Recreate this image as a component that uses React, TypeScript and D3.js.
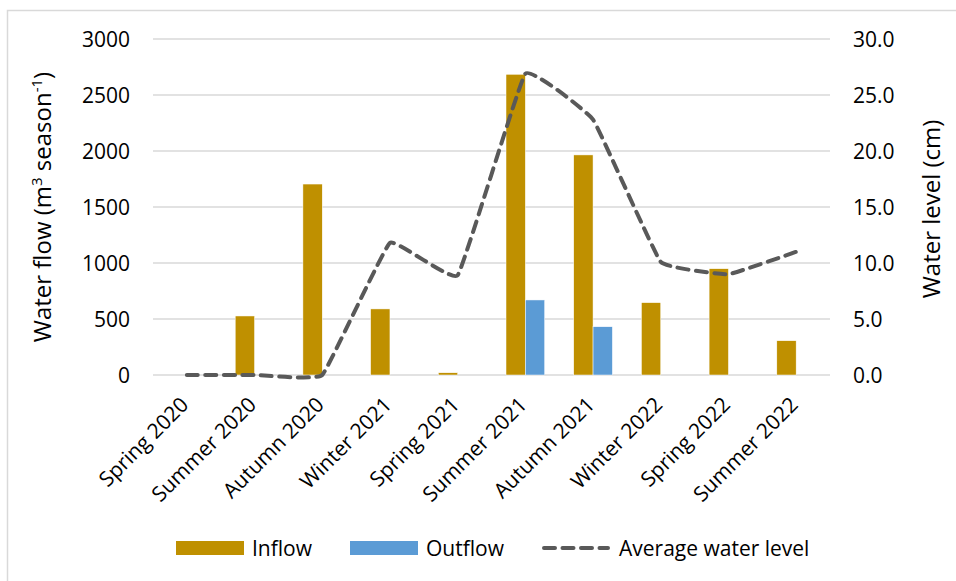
import React from "react";
import * as d3 from "d3";

const categories = [
  "Spring 2020", "Summer 2020", "Autumn 2020", "Winter 2021", "Spring 2021",
  "Summer 2021", "Autumn 2021", "Winter 2022", "Spring 2022", "Summer 2022",
];
const inflow = [0, 527, 1705, 590, 20, 2685, 1965, 646, 949, 306];
const outflow = [0, 0, 0, 0, 0, 670, 431, 0, 0, 0];
const waterLevel = [0, 0, 0, 11.8, 8.9, 26.9, 22.8, 10.1, 9.0, 11.0];
const leftTicks = [0, 500, 1000, 1500, 2000, 2500, 3000];
const rightTicks = [0, 5, 10, 15, 20, 25, 30];
const seriesNames = ["Inflow", "Outflow"];

const W = 956;
const H = 581;
const FONT = "'Open Sans', sans-serif";
const colors = { Inflow: "#BF9000", Outflow: "#5B9BD5", line: "#595959" };

export default function App() {
  const plot = { left: 153, right: 830, top: 39, bottom: 375 };
  const x = d3.scaleBand<string>().domain(categories).range([plot.left, plot.right]).padding(0);
  const groupW = (x.bandwidth() * 2) / 3.5;
  const xs = d3.scaleBand<string>().domain(seriesNames).range([-groupW / 2, groupW / 2]).padding(0);
  const yL = d3.scaleLinear().domain([0, 3000]).range([plot.bottom, plot.top]);
  const yR = d3.scaleLinear().domain([0, 30]).range([plot.bottom, plot.top]);
  const cx = (c: string) => (x(c) as number) + x.bandwidth() / 2;

  const line = d3
    .line<number>()
    .x((_, i) => cx(categories[i]))
    .y((d) => yR(d))
    .curve(d3.curveCardinal.tension(0.75));
  const linePath = line(waterLevel) || "";

  const series = [
    { name: "Inflow", values: inflow },
    { name: "Outflow", values: outflow },
  ];

  const textColor = "#000";
  const fs = 21;

  return (
    <svg
      width={W}
      height={H}
      style={{ position: "absolute", left: 0, top: 0, background: "#fff" }}
      fontFamily={FONT}
    >
      <rect x={0} y={0} width={W} height={H} fill="#fff" />
      <rect x={7.5} y={10.5} width={W + 20} height={H + 20} fill="none" stroke="#d9d9d9" strokeWidth={1.5} />
      {leftTicks.map((t) => (
        <line key={"g" + t} x1={plot.left} x2={plot.right} y1={yL(t)} y2={yL(t)} stroke="#d9d9d9" strokeWidth={1.5} />
      ))}
      {series.map((s) =>
        s.values.map((v, i) =>
          v > 0 ? (
            <rect
              key={s.name + i}
              x={cx(categories[i]) + (xs(s.name) as number)}
              y={yL(v)}
              width={xs.bandwidth()}
              height={yL(0) - yL(v)}
              fill={colors[s.name as "Inflow" | "Outflow"]}
              stroke="#fff"
              strokeWidth={0.5}
            />
          ) : null
        )
      )}
      <path
        d={linePath}
        fill="none"
        stroke={colors.line}
        strokeWidth={4}
        strokeDasharray="11 7.5"
        strokeLinecap="round"
        strokeLinejoin="round"
      />
      {leftTicks.map((t) => (
        <text key={"l" + t} x={130} y={yL(t)} dy="0.36em" textAnchor="end" fontSize={fs} fill={textColor}>
          {t}
        </text>
      ))}
      {rightTicks.map((t) => (
        <text key={"r" + t} x={853} y={yR(t)} dy="0.36em" textAnchor="start" fontSize={fs} fill={textColor}>
          {d3.format(".1f")(t)}
        </text>
      ))}
      {categories.map((c) => (
        <text
          key={"x" + c}
          transform={`translate(${cx(c) + 3},${plot.bottom + 31}) rotate(-45)`}
          textAnchor="end"
          fontSize={fs}
          fill={textColor}
        >
          {c}
        </text>
      ))}
      <text
        transform={`translate(43,${(plot.top + plot.bottom) / 2}) rotate(-90)`}
        textAnchor="middle"
        dy="0.35em"
        fontSize={24}
        fill={textColor}
      >
        Water flow (m
        <tspan fontSize={15} dy={-9}>3</tspan>
        <tspan dy={9}> season</tspan>
        <tspan fontSize={15} dy={-9}>-1</tspan>
        <tspan dy={9}>)</tspan>
      </text>
      <text
        transform={`translate(932,${(plot.top + plot.bottom) / 2 + 2}) rotate(-90)`}
        textAnchor="middle"
        dy="0.35em"
        fontSize={24}
        fill={textColor}
      >
        Water level (cm)
      </text>
      <rect x={176} y={541} width={68} height={14} fill={colors.Inflow} />
      <text x={252} y={548} dy="0.36em" fontSize={fs} fill={textColor}>Inflow</text>
      <rect x={350} y={541} width={68} height={14} fill={colors.Outflow} />
      <text x={426} y={548} dy="0.36em" fontSize={fs} fill={textColor}>Outflow</text>
      <line
        x1={544}
        x2={608}
        y1={548}
        y2={548}
        stroke={colors.line}
        strokeWidth={4}
        strokeDasharray="11 7.5"
        strokeLinecap="round"
      />
      <text x={619} y={548} dy="0.36em" fontSize={fs} fill={textColor}>Average water level</text>
    </svg>
  );
}
